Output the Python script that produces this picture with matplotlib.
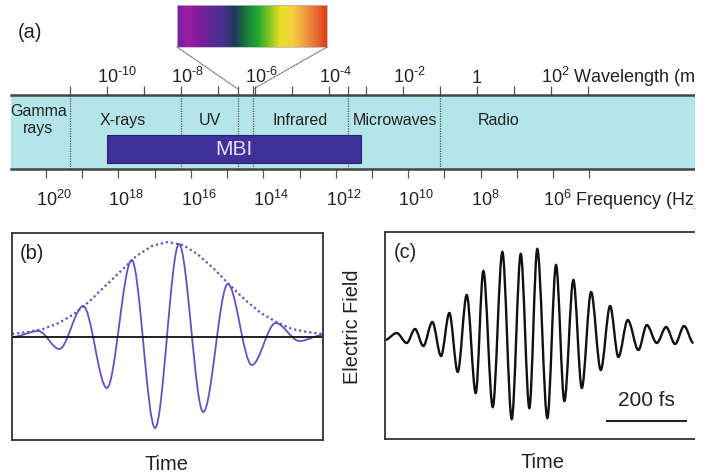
import numpy as np
import matplotlib.pyplot as plt
from matplotlib.path import Path
from matplotlib.patches import PathPatch, Rectangle, ConnectionPatch
from matplotlib.colors import LinearSegmentedColormap
from matplotlib.transforms import ScaledTranslation

plt.rcParams['font.family'] = ['Liberation Sans', 'DejaVu Sans']
plt.rcParams['mathtext.fontset'] = 'custom'
plt.rcParams['mathtext.rm'] = 'Liberation Sans'
plt.rcParams['mathtext.it'] = 'Liberation Sans:italic'

# (a) espectro: posiciones en log10 de la longitud de onda (m)
wl_ticks = list(range(-11, 4))
wl_labels = {-10: '$10^{\u201010}$', -8: '$10^{\u20108}$', -6: '$10^{\u20106}$',
             -4: '$10^{\u20104}$', -2: '$10^{\u20102}$', 0: '1',
             2: '$10^{2}$ Wavelength (m)'}
freq_ticks = list(range(5, 21))
freq_labels = {20: '$10^{20}$', 18: '$10^{18}$', 16: '$10^{16}$', 14: '$10^{14}$',
               12: '$10^{12}$', 10: '$10^{10}$', 8: '$10^{8}$', 6: '$10^{6}$ Frequency (Hz)'}
region_edges = [-11, -8, -6.46, -6.05, -3.49, -1]
region_names = ['Gamma\nrays', 'X-rays', 'UV', 'Infrared', 'Microwaves', 'Radio']
region_centers = [-11.86, -9.57, -7.22, -4.78, -2.22, 0.59]
mbi_range = (-10, -3.14)
visible_range = (-6.46, -6.05)
spectrum_colors = ['#7a1fa8', '#9c1ea2', '#7e1a9e', '#5a2a96', '#4a2f90', '#1e3a5c',
                   '#1a7a3a', '#20a830', '#86c420', '#e8e024', '#f6cf40', '#f0a040',
                   '#e8703a', '#e03c14']

# (b) pulso esquematico: extremos (tiempo, amplitud) y envolvente
b_time = [0.0, 0.85, 1.52, 2.29, 3.05, 3.85, 4.60, 5.37, 6.15, 6.94, 7.71, 8.48, 9.24, 10.0]
b_field = [0.0, 0.06, -0.12, 0.31, -0.51, 0.77, -0.91, 0.93, -0.75, 0.53, -0.28, 0.14, -0.04, 0.02]
env_time = [0, 0.5, 1, 1.5, 2, 2.5, 3, 3.5, 4, 4.5, 5, 5.5, 6, 6.5, 7, 7.5, 8, 8.5, 9, 9.5, 10]
env_field = [0.03, 0.05, 0.08, 0.14, 0.23, 0.36, 0.51, 0.66, 0.81, 0.91, 0.95, 0.92, 0.82,
             0.68, 0.52, 0.37, 0.24, 0.15, 0.08, 0.05, 0.03]

# (c) pulso medido: extremos (fs, amplitud)
c_time = [0, 29.6, 54.9, 75.9, 96.9, 119.7, 141.7, 162.7, 183.9, 206.7, 229.5, 248.7, 272.5,
          296.8, 320.5, 343.3, 365.1, 385.1, 410.6, 432.6, 453.6, 476.4, 497.7, 521.2, 545.7,
          569.3, 590.2, 614.0, 640.9, 662.1, 687.4, 710.9, 733.7, 756.5, 780.0]
c_field = [-0.03, 0.04, -0.06, 0.08, -0.09, 0.15, -0.19, 0.24, -0.35, 0.42, -0.56, 0.66, -0.70,
           0.85, -0.82, 0.83, -0.71, 0.88, -0.81, 0.72, -0.64, 0.57, -0.51, 0.45, -0.33,
           0.31, -0.20, 0.17, -0.13, 0.12, -0.06, 0.10, -0.07, 0.11, -0.06]
scale_start = 561
scale_len = 200

W, H = 712, 476
band_color = '#b4e5e9'
purple = '#6a4fc0'
dark = '#222222'


def lam_from_freq(lf):
    return 7.93 - 0.979 * np.asarray(lf, dtype=float)


def freq_from_lam(ll):
    return (7.93 - np.asarray(ll, dtype=float)) / 0.979


def smooth_path(t, a):
    verts = [(t[0], a[0])]
    codes = [Path.MOVETO]
    for i in range(1, len(t)):
        dt = t[i] - t[i - 1]
        verts += [(t[i - 1] + dt / 3, a[i - 1]), (t[i] - dt / 3, a[i]), (t[i], a[i])]
        codes += [Path.CURVE4] * 3
    return Path(verts, codes)


def px_off(dx, dy):
    return ScaledTranslation(dx / 100, dy / 100, fig.dpi_scale_trans)


fig = plt.figure(figsize=(W / 100, H / 100), dpi=100)

# ---------- (a) ----------
ax = fig.add_axes([11 / W, (H - 169) / H, 684 / W, 74 / H])
ax.set_facecolor(band_color)
ax.set_xlim(-12.595, 5.892)
ax.set_ylim(0, 1)
for s in ['left', 'right']:
    ax.spines[s].set_visible(False)
for s in ['top', 'bottom']:
    ax.spines[s].set_linewidth(1.8)
    ax.spines[s].set_color('#444444')
ax.set_yticks([])
ax.xaxis.tick_top()
ax.set_xticks(wl_ticks)
ax.set_xticks([visible_range[0], visible_range[1], region_edges[4]], minor=True)
ax.set_xticklabels([])
ax.tick_params(axis='x', which='both', direction='out', length=6.5, width=0.9,
               color='#555555', top=True, bottom=False)

sec = ax.secondary_xaxis('bottom', functions=(freq_from_lam, lam_from_freq))
sec.set_xticks(freq_ticks)
sec.set_xticklabels([])
sec.tick_params(axis='x', direction='out', length=6.5, width=0.9, color='#555555')
sec.spines['bottom'].set_visible(False)

xt = ax.get_xaxis_transform()
for k, lab in wl_labels.items():
    if k == 0:
        ax.text(k, 1, lab, transform=xt + px_off(0, 12), ha='center', va='baseline',
                fontsize=13, color=dark)
    else:
        ax.text(k, 1, lab, transform=xt + px_off(-10, 12), ha='left', va='baseline',
                fontsize=13, color=dark)
for k, lab in freq_labels.items():
    ax.text(lam_from_freq(k), 0, lab, transform=xt + px_off(-10, -37), ha='left',
            va='baseline', fontsize=13, color=dark)

ax.vlines(region_edges, 0, 1, colors='#555555', linestyles=(0, (1, 1)), lw=0.9, zorder=1)
for x, name in zip(region_centers, region_names):
    ax.text(x, 0.66, name, ha='center', va='center', fontsize=11.5, color=dark,
            linespacing=1.15)

ax.add_patch(Rectangle((mbi_range[0], 0.081), mbi_range[1] - mbi_range[0], 0.38,
                       fc='#40309a', ec='#2c2272', lw=0.8, zorder=2))
ax.text(np.mean(mbi_range), 0.27, 'MBI', ha='center', va='center', fontsize=15,
        color='#e6e0f4', zorder=3)

# espectro visible
ins = fig.add_axes([177 / W, (H - 47) / H, 150 / W, 42 / H])
cmap = LinearSegmentedColormap.from_list('vis', spectrum_colors)
ins.imshow(np.linspace(0, 1, 256)[None, :], cmap=cmap, aspect='auto')
ins.set_xticks([])
ins.set_yticks([])
for s in ins.spines.values():
    s.set_color('#bbbbbb')
    s.set_linewidth(0.6)
for xa, xb in [(0, visible_range[0]), (1, visible_range[1])]:
    con = ConnectionPatch(xyA=(xa, 0), coordsA=ins.transAxes,
                          xyB=(xb, 1.08), coordsB=xt,
                          color='#777777', lw=0.8, linestyle=(0, (2, 1)))
    fig.add_artist(con)

fig.text(30 / W, 1 - 32 / H, '(a)', ha='center', va='center', fontsize=14.4, color=dark)

# ---------- (b) ----------
axb = fig.add_axes([12 / W, (H - 440) / H, 311 / W, 207 / H])
axb.set_xlim(0, 10)
axb.set_ylim(-1.03, 1.04)
axb.set_xticks([])
axb.set_yticks([])
for s in axb.spines.values():
    s.set_linewidth(1.3)
    s.set_color('#333333')
axb.axhline(0, color='#111111', lw=1.3)
axb.plot(env_time, env_field, color=purple, lw=1.6, linestyle=(0, (1, 1.3)))
axb.add_patch(PathPatch(smooth_path(b_time, b_field), fill=False, ec=purple, lw=1.3))
axb.text(0.065, 0.9, '(b)', transform=axb.transAxes, ha='center', va='center',
         fontsize=14.4, color=dark)

# ---------- (c) ----------
axc = fig.add_axes([385 / W, (H - 439) / H, 310 / W, 207 / H])
axc.set_xlim(0, 784)
axc.set_ylim(-1.02, 1.05)
axc.set_xticks([])
axc.set_yticks([])
axc.spines['right'].set_visible(False)
for s in ['left', 'top', 'bottom']:
    axc.spines[s].set_linewidth(1.3)
    axc.spines[s].set_color('#333333')
axc.add_patch(PathPatch(smooth_path(c_time, c_field), fill=False, ec='#111111', lw=1.7))
axc.plot([scale_start, scale_start + scale_len], [-0.84, -0.84], color='#222222', lw=1.5)
axc.text(scale_start + scale_len / 2, -0.64, f'{scale_len} fs', ha='center', va='center',
         fontsize=15, color=dark)
axc.text(0.065, 0.9, '(c)', transform=axc.transAxes, ha='center', va='center',
         fontsize=14.4, color=dark)

fig.text(166 / W, 1 - 464 / H, 'Time', ha='center', va='center', fontsize=14.4, color=dark)
fig.text(542 / W, 1 - 463 / H, 'Time', ha='center', va='center', fontsize=14.4, color=dark)
fig.text(352 / W, 1 - 327 / H, 'Electric Field', ha='center', va='center', rotation=90,
         fontsize=14.4, color=dark)

# recorte del borde derecho como en la figura original
fig.add_artist(Rectangle((695 / W, 0), 1, 1, transform=fig.transFigure, fc='white',
                         ec='none', zorder=10))

fig.savefig('out.png', dpi=100)
